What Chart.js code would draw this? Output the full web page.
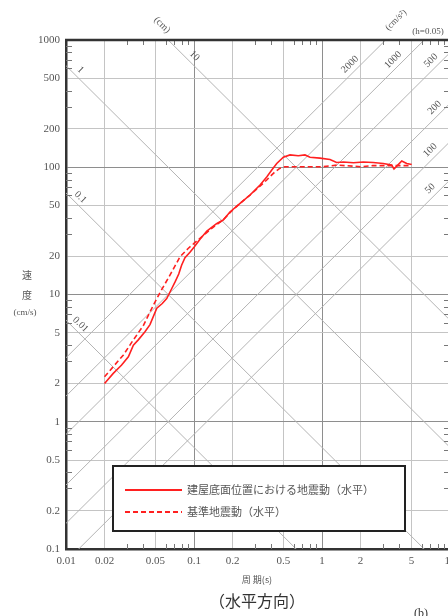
<!DOCTYPE html>
<html>
<head>
<meta charset="utf-8">
<script src="https://cdn.jsdelivr.net/npm/chart.js@4.4.1/dist/chart.umd.min.js"></script>
<style>
    html, body { margin: 0; padding: 0; background: #fff; overflow: hidden; }
    #wrap { width: 470px; height: 616px; }
</style>
</head>
<body>
<div id="wrap"><canvas id="spectrumChart" width="470" height="616"></canvas></div>
<script>
// Response spectrum: period (s) / pseudo velocity (cm/s)
const basePeriods = [0.020, 0.0234, 0.0272, 0.0307, 0.0336, 0.0367, 0.0414, 0.0453, 0.0512, 0.0565,
    0.0612, 0.066, 0.071, 0.076, 0.080, 0.085, 0.093, 0.100, 0.111, 0.126,
    0.150, 0.169, 0.191, 0.229, 0.274, 0.328, 0.370, 0.405, 0.443, 0.499,
    0.562, 0.653, 0.736, 0.806, 0.965, 1.155, 1.30, 1.47, 1.76, 2.10,
    2.51, 3.01, 3.50, 3.65, 3.84, 4.20, 4.59, 5.02];
const baseVelocity = [2.00, 2.40, 2.79, 3.24, 4.0, 4.4, 5.1, 5.8, 7.8, 8.5,
    9.3, 10.8, 12.5, 14.5, 17.0, 19.5, 21.5, 23.5, 27.0, 31.5,
    36.0, 38.5, 44.5, 52, 60.5, 72.5, 84, 95, 107, 120,
    125, 123, 125, 120, 118, 115, 109, 110, 108.6, 110,
    109, 107, 104, 97, 102, 112, 107, 105];

const designPeriods = [0.020, 0.0234, 0.0281, 0.0336, 0.0402, 0.048, 0.0544, 0.0649, 0.0778, 0.090,
    0.100, 0.120, 0.145, 0.169, 0.191, 0.229, 0.274, 0.328, 0.370, 0.417,
    0.467, 0.514, 0.76, 1.02, 1.30, 1.76, 2.0, 2.5, 3.0, 3.5,
    4.0, 5.0];
const designVelocity = [2.26, 2.71, 3.35, 4.4, 5.7, 8.2, 10.4, 14.2, 19.8, 23.0,
    25.2, 29.5, 34.5, 38.5, 44, 52, 60.5, 71, 79.4, 89.6,
    98, 101, 101, 101, 104, 102, 101, 103, 103, 103,
    103, 103];

const xTicks = [0.01, 0.02, 0.05, 0.1, 0.2, 0.5, 1, 2, 5, 10];
const xTickLabels = ['0.01', '0.02', '0.05', '0.1', '0.2', '0.5', '1', '2', '5', '10'];
const yTicks = [0.1, 0.2, 0.5, 1, 2, 5, 10, 20, 50, 100, 200, 500, 1000];
const yTickLabels = ['0.1', '0.2', '0.5', '1', '2', '5', '10', '20', '50', '100', '200', '500', '1000'];

// Tripartite guide lines: displacement (cm) and acceleration (cm/s2)
const dispLines = [0.01, 0.1, 1, 10];
const dispLabels = ['0.01', '0.1', '1', '10'];
const accLines = [50, 100, 200, 500, 1000, 2000];
const accLabels = ['50', '100', '200', '500', '1000', '2000'];

const seriesNames = ['建屋底面位置における地震動（水平）', '基準地震動（水平）'];

const RED = '#ff2020';
const SERIF = '"Liberation Serif", "DejaVu Serif", serif';
const CJK = '"Noto Sans CJK JP", sans-serif';
const minorDigits = [3, 4, 6, 7, 8, 9];

const isDecade = v => Math.abs(Math.log10(v) - Math.round(Math.log10(v))) < 1e-6;

// Diagonal lines + their labels
const tripartitePlugin = {
    id: 'tripartite',
    beforeDatasetsDraw(chart) {
        const { ctx, chartArea: a, scales: { x, y } } = chart;
        ctx.save();
        ctx.beginPath();
        ctx.rect(a.left, a.top, a.right - a.left, a.bottom - a.top);
        ctx.clip();
        ctx.strokeStyle = '#b4b4b4';
        ctx.lineWidth = 1;
        const t0 = 0.001, t1 = 100;
        dispLines.forEach(d => {
            ctx.beginPath();
            ctx.moveTo(x.getPixelForValue(t0), y.getPixelForValue(2 * Math.PI * d / t0));
            ctx.lineTo(x.getPixelForValue(t1), y.getPixelForValue(2 * Math.PI * d / t1));
            ctx.stroke();
        });
        accLines.forEach(acc => {
            ctx.beginPath();
            ctx.moveTo(x.getPixelForValue(t0), y.getPixelForValue(acc * t0 / (2 * Math.PI)));
            ctx.lineTo(x.getPixelForValue(t1), y.getPixelForValue(acc * t1 / (2 * Math.PI)));
            ctx.stroke();
        });
        ctx.restore();

        // labels along the lines
        ctx.save();
        ctx.fillStyle = '#555';
        ctx.font = '10px ' + SERIF;
        ctx.textAlign = 'center';
        ctx.textBaseline = 'middle';
        const dispAt = [0.0125, 0.0125, 0.0125, 0.097];
        dispLines.forEach((d, i) => {
            const t = dispAt[i];
            const px = x.getPixelForValue(t), py = y.getPixelForValue(2 * Math.PI * d / t);
            const ang = Math.atan2(y.getPixelForValue(2 * Math.PI * d / (t * 10)) - py,
                x.getPixelForValue(t * 10) - px);
            ctx.save();
            ctx.translate(px + 2, py - 8);
            ctx.rotate(ang);
            ctx.fillText(dispLabels[i], 0, 0);
            ctx.restore();
        });
        const accAt = [7.4, 7.4, 8.0, 7.5, 3.8, 1.75];
        accLines.forEach((acc, i) => {
            const t = accAt[i];
            const px = x.getPixelForValue(t), py = y.getPixelForValue(acc * t / (2 * Math.PI));
            const ang = Math.atan2(y.getPixelForValue(acc * t * 10 / (2 * Math.PI)) - py,
                x.getPixelForValue(t * 10) - px);
            ctx.save();
            ctx.translate(px - 3, py - 8);
            ctx.rotate(ang);
            ctx.fillText(accLabels[i], 0, 0);
            ctx.restore();
        });
        ctx.restore();
    }
};

// Frame, minor ticks, legend and captions
const decorPlugin = {
    id: 'decor',
    afterDraw(chart) {
        const { ctx, chartArea: a, scales: { x, y } } = chart;
        ctx.save();
        // minor ticks on all four edges
        ctx.strokeStyle = '#777';
        ctx.lineWidth = 1;
        for (let e = -2; e <= 0; e++) {
            minorDigits.forEach(m => {
                const px = Math.round(x.getPixelForValue(m * Math.pow(10, e))) + 0.5;
                ctx.beginPath();
                ctx.moveTo(px, a.top); ctx.lineTo(px, a.top + 5);
                ctx.moveTo(px, a.bottom); ctx.lineTo(px, a.bottom - 5);
                ctx.stroke();
            });
        }
        for (let e = -1; e <= 2; e++) {
            minorDigits.forEach(m => {
                const py = Math.round(y.getPixelForValue(m * Math.pow(10, e))) + 0.5;
                ctx.beginPath();
                ctx.moveTo(a.left, py); ctx.lineTo(a.left + 6, py);
                ctx.moveTo(a.right, py); ctx.lineTo(a.right - 6, py);
                ctx.stroke();
            });
        }
        // top frame line
        ctx.strokeStyle = '#333';
        ctx.lineWidth = 2.5;
        ctx.beginPath();
        ctx.moveTo(a.left - 1, a.top);
        ctx.lineTo(a.right + 2, a.top);
        ctx.stroke();

        // legend box
        const lx = 113, ly = 466, lw = 292, lh = 65;
        ctx.fillStyle = '#fff';
        ctx.fillRect(lx, ly, lw, lh);
        ctx.strokeStyle = '#222';
        ctx.lineWidth = 2;
        ctx.strokeRect(lx, ly, lw, lh);
        ctx.strokeStyle = RED;
        ctx.lineWidth = 1.8;
        ctx.beginPath(); ctx.moveTo(125, 490); ctx.lineTo(182, 490); ctx.stroke();
        ctx.setLineDash([5, 3]);
        ctx.beginPath(); ctx.moveTo(125, 512); ctx.lineTo(182, 512); ctx.stroke();
        ctx.setLineDash([]);
        ctx.fillStyle = '#555';
        ctx.font = '11px ' + CJK;
        ctx.textAlign = 'left';
        ctx.textBaseline = 'middle';
        ctx.fillText(seriesNames[0], 187, 490);
        ctx.fillText(seriesNames[1], 187, 512);

        // axis titles and guide-line units
        ctx.fillStyle = '#555';
        ctx.textAlign = 'center';
        ctx.font = '10px ' + CJK;
        ctx.fillText('速', 27, 275);
        ctx.fillText('度', 27, 295);
        ctx.font = '9px ' + CJK;
        ctx.fillText('周 期(s)', 257, 580);
        ctx.font = '9px ' + SERIF;
        ctx.fillText('(cm/s)', 25, 313);
        ctx.fillText('(h=0.05)', 428, 32);
        ctx.save();
        ctx.translate(162, 25); ctx.rotate(Math.PI / 4);
        ctx.font = '10px ' + SERIF;
        ctx.fillText('(cm)', 0, 0);
        ctx.restore();
        ctx.save();
        ctx.translate(396, 20); ctx.rotate(-Math.PI / 4);
        ctx.font = '9px ' + SERIF;
        ctx.fillText('(cm/s²)', 0, 0);
        ctx.restore();

        ctx.fillStyle = '#333';
        ctx.font = '16px ' + CJK;
        ctx.fillText('（水平方向）', 257, 601);
        ctx.font = '12px ' + SERIF;
        ctx.textAlign = 'left';
        ctx.fillText('(b)', 414, 614);
        ctx.restore();
    }
};

const ctx = document.getElementById('spectrumChart').getContext('2d');
const spectrumChart = new Chart(ctx, {
    type: 'line',
    data: {
        datasets: [{
            label: seriesNames[0],
            data: basePeriods.map((t, i) => ({ x: t, y: baseVelocity[i] })),
            borderColor: RED,
            borderWidth: 1.6,
            pointRadius: 0,
            tension: 0
        }, {
            label: seriesNames[1],
            data: designPeriods.map((t, i) => ({ x: t, y: designVelocity[i] })),
            borderColor: RED,
            borderWidth: 1.6,
            borderDash: [5, 3],
            pointRadius: 0,
            tension: 0
        }]
    },
    options: {
        responsive: false,
        animation: false,
        devicePixelRatio: 1,
        layout: { padding: { left: 0, right: 20, top: 40, bottom: 0 } },
        plugins: {
            legend: { display: false },
            tooltip: { enabled: false }
        },
        scales: {
            x: {
                type: 'logarithmic',
                min: 0.01,
                max: 10,
                afterFit: s => { s.height = 67; },
                afterBuildTicks: s => { s.ticks = xTicks.map(v => ({ value: v })); },
                grid: {
                    drawTicks: false,
                    color: c => isDecade(c.tick.value) ? '#8e8e8e' : '#c4c4c4'
                },
                border: { color: '#333', width: 2.5 },
                ticks: {
                    autoSkip: false,
                    maxRotation: 0,
                    padding: 6,
                    color: '#555',
                    font: { family: SERIF, size: 11 },
                    callback: (v, i) => xTickLabels[i]
                }
            },
            y: {
                type: 'logarithmic',
                min: 0.1,
                max: 1000,
                afterFit: s => { s.width = 66; },
                afterBuildTicks: s => { s.ticks = yTicks.map(v => ({ value: v })); },
                grid: {
                    drawTicks: false,
                    color: c => isDecade(c.tick.value) ? '#8e8e8e' : '#c4c4c4'
                },
                border: { color: '#333', width: 2.5 },
                ticks: {
                    autoSkip: false,
                    padding: 6,
                    color: '#555',
                    font: { family: SERIF, size: 11 },
                    callback: (v, i) => yTickLabels[i]
                }
            }
        }
    },
    plugins: [tripartitePlugin, decorPlugin]
});
</script>
</body>
</html>
